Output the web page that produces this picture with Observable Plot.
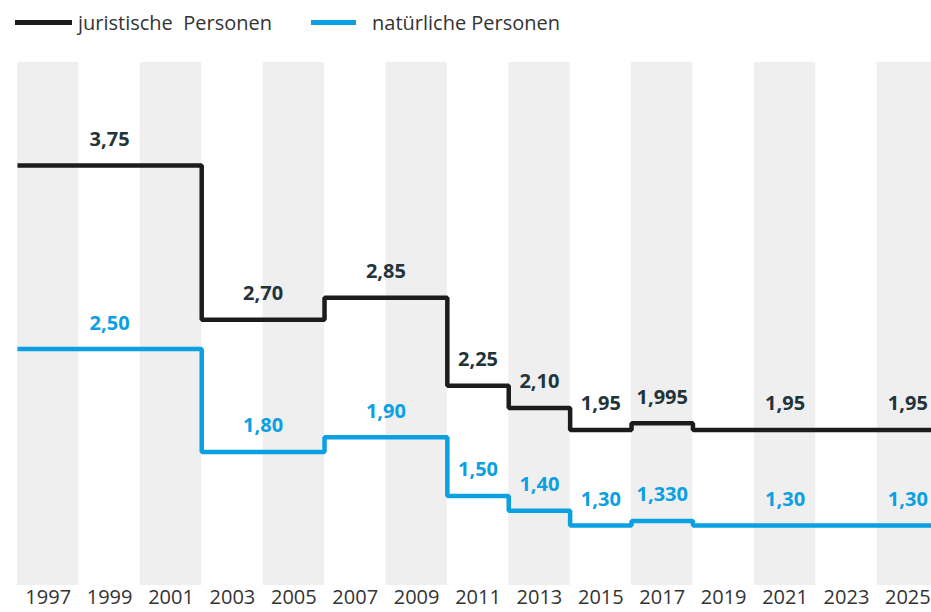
<!DOCTYPE html>
<html>
<head>
<meta charset="utf-8">
<script src="https://cdn.jsdelivr.net/npm/d3@7"></script>
<script src="https://cdn.jsdelivr.net/npm/@observablehq/plot@0.6"></script>
<style>
  html, body { margin: 0; padding: 0; background: #fff; overflow: hidden; }
  body { width: 931px; height: 612px; font-family: "Open Sans", "Noto Sans", sans-serif; }
  #legend { height: 44px; position: relative; font-size: 20px; color: #333; }
  .item { position: absolute; top: 8px; display: flex; align-items: center; height: 28px; white-space: pre; }
  .swatch { display: inline-block; height: 5px; margin-right: 6px; }
  #chart svg { display: block; }
</style>
</head>
<body>
<div id="legend"></div>
<div id="chart"></div>
<script>
// ---- data ----
const seriesNames = ["juristische  Personen", "natürliche Personen"];
const seriesColors = ["#1c1c1c", "#0aa0e2"];
const labelColors = ["#22343a", "#0aa0e2"];

// change years of the step lines (value holds from this year onwards)
const stepYears = [1996, 2002, 2006, 2010, 2012, 2014, 2016, 2018, 2026];
const juristValues = [3.75, 2.70, 2.85, 2.25, 2.10, 1.95, 1.995, 1.95, 1.95];
const natuerlValues = [2.50, 1.80, 1.90, 1.50, 1.40, 1.30, 1.330, 1.30, 1.30];

// value labels
const labelYears = [1999, 2004, 2008, 2011, 2013, 2015, 2017, 2021, 2025];
const juristLabels = ["3,75", "2,70", "2,85", "2,25", "2,10", "1,95", "1,995", "1,95", "1,95"];
const natuerlLabels = ["2,50", "1,80", "1,90", "1,50", "1,40", "1,30", "1,330", "1,30", "1,30"];

// x-axis tick labels
const tickYears = [1997, 1999, 2001, 2003, 2005, 2007, 2009, 2011, 2013, 2015, 2017, 2019, 2021, 2023, 2025];
// shaded two-year bands (centred on these years)
const bandYears = [1997, 2001, 2005, 2009, 2013, 2017, 2021, 2025];

// ---- legend ----
const legend = document.getElementById("legend");
const legendPos = [[15, 57], [311, 45]];
seriesNames.forEach((name, i) => {
  const it = document.createElement("div");
  it.className = "item";
  it.style.left = legendPos[i][0] + "px";
  const sw = document.createElement("span");
  sw.className = "swatch";
  sw.style.width = legendPos[i][1] + "px";
  sw.style.background = seriesColors[i];
  if (i === 1) sw.style.marginRight = "16px";
  it.appendChild(sw);
  const tx = document.createElement("span");
  tx.textContent = name;
  it.appendChild(tx);
  legend.appendChild(it);
});

// ---- tables ----
const lineData = [];
stepYears.forEach((y, i) => {
  lineData.push({year: y, value: juristValues[i], s: 0});
  lineData.push({year: y, value: natuerlValues[i], s: 1});
});
const toNum = (t) => +t.replace(",", ".");
const labelData = [];
labelYears.forEach((y, i) => {
  labelData.push({year: y, text: juristLabels[i], value: toNum(juristLabels[i]), s: 0});
  labelData.push({year: y, text: natuerlLabels[i], value: toNum(natuerlLabels[i]), s: 1});
});

const xMax = 2025.77;
const chart = Plot.plot({
  width: 931,
  height: 568,
  marginLeft: 17,
  marginRight: 0,
  marginTop: 18,
  marginBottom: 27,
  style: {fontFamily: "'Open Sans', 'Noto Sans', sans-serif", fontSize: "20px", color: "#333", background: "#fff", overflow: "hidden"},
  x: {domain: [1996, xMax], clamp: true, ticks: tickYears, tickFormat: d => String(d), tickSize: 0, tickPadding: 4, label: null},
  y: {domain: [0.891, 4.451], axis: null},
  marks: [
    Plot.barX(bandYears, {x1: d => d - 1, x2: d => Math.min(d + 1, xMax), fill: "#efefef"}),
    Plot.line(lineData.filter(d => d.s === 1), {x: "year", y: "value", curve: "step-after", stroke: seriesColors[1], strokeWidth: 4.5, strokeLinejoin: "miter", strokeLinecap: "butt"}),
    Plot.line(lineData.filter(d => d.s === 0), {x: "year", y: "value", curve: "step-after", stroke: seriesColors[0], strokeWidth: 4.5, strokeLinejoin: "miter", strokeLinecap: "butt"}),
    Plot.text(labelData, {x: "year", y: "value", text: "text", dy: -26, fill: d => labelColors[d.s], fontWeight: "bold", fontSize: 20})
  ]
});
document.getElementById("chart").appendChild(chart);
</script>
</body>
</html>
